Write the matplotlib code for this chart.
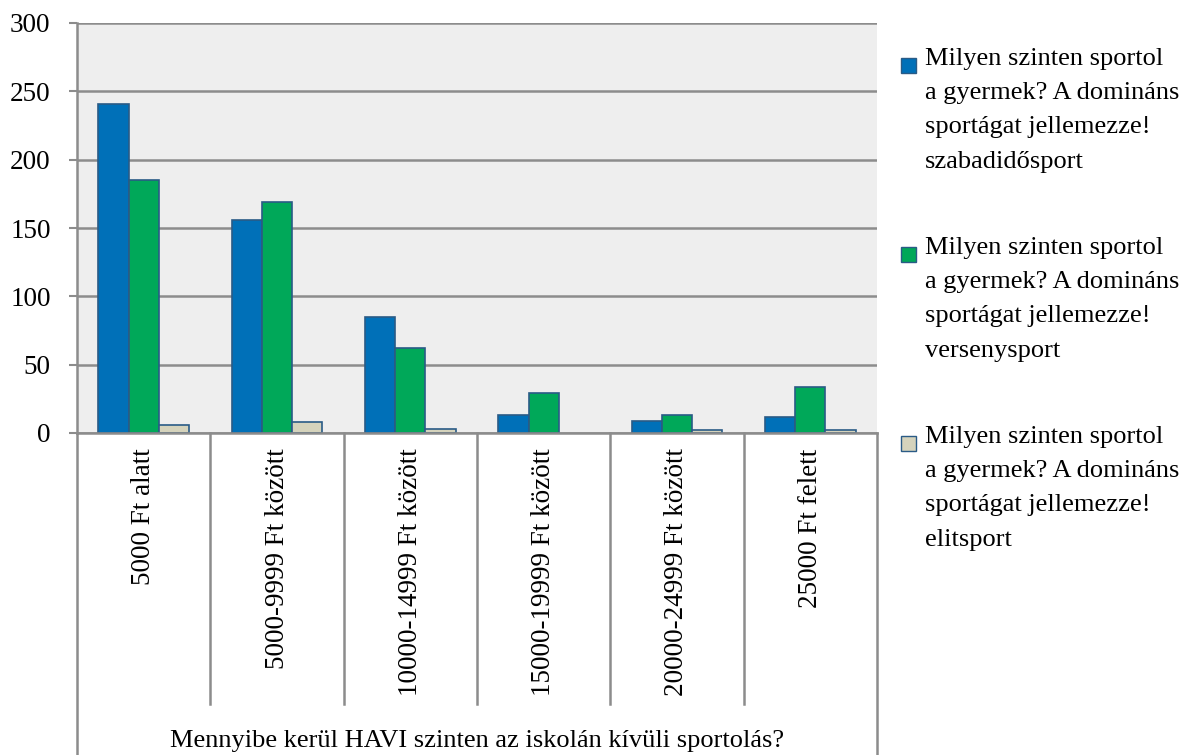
import numpy as np
import matplotlib

matplotlib.use("Agg")
import matplotlib.pyplot as plt  # noqa: E402
from matplotlib.patches import Rectangle  # noqa: E402

categories = [
    "5000 Ft alatt",
    "5000-9999 Ft között",
    "10000-14999 Ft között",
    "15000-19999 Ft között",
    "20000-24999 Ft között",
    "25000 Ft felett",
]
szabadido = [241, 156, 85, 13, 9, 12]
verseny = [185, 169, 62, 29, 13, 34]
elit = [6, 8, 3, 0, 2, 2]

series_labels = [
    "Milyen szinten sportol\na gyermek? A domináns\nsportágat jellemezze!\nszabadidősport",
    "Milyen szinten sportol\na gyermek? A domináns\nsportágat jellemezze!\nversenysport",
    "Milyen szinten sportol\na gyermek? A domináns\nsportágat jellemezze!\nelitsport",
]
colors = ["#0070B8", "#00A859", "#D5D3BC"]
edge = "#2A5B86"
grid_c = "#8C8C8C"
x_title = "Mennyibe kerül HAVI szinten az iskolán kívüli sportolás?"

plt.rcParams["font.family"] = ["Liberation Serif", "DejaVu Serif"]
FS = 19.5
FS_LEG = 19

W, H = 1186, 755
fig = plt.figure(figsize=(W / 100, H / 100), dpi=100)
left, right, top, bottom = 77, 877, 23, 433
ax = fig.add_axes([left / W, 1 - bottom / H, (right - left) / W, (bottom - top) / H])
ax.set_facecolor("#EEEEEE")

n = len(categories)
x = np.arange(n)
bw = 0.227
for i, (vals, col) in enumerate(zip([szabadido, verseny, elit], colors)):
    lws = [1.2 if v > 0 else 0 for v in vals]
    ax.bar(x + (i - 1) * bw, vals, bw, color=col, edgecolor=edge, linewidth=lws, zorder=3)

ax.set_xlim(-0.5, n - 0.5)
ax.set_ylim(0, 300)
ax.set_yticks(np.arange(0, 301, 50))
ax.yaxis.grid(True, color=grid_c, linewidth=1.8, zorder=1)
ax.set_axisbelow(True)
ax.tick_params(axis="y", length=6, width=1.5, color=grid_c, pad=13, labelsize=FS)
for s in ["top", "right"]:
    ax.spines[s].set_visible(False)
ax.spines["left"].set_color(grid_c)
ax.spines["left"].set_linewidth(1.8)
ax.spines["bottom"].set_color(grid_c)
ax.spines["bottom"].set_linewidth(1.8)
ax.spines["bottom"].set_zorder(4)

ax.set_xticks(x)
ax.set_xticklabels(categories, rotation=90, fontsize=FS, va="top")
ax.tick_params(axis="x", length=0, pad=11)

# category separators below the axis
plot_h = bottom - top
sep_bot = -(704 - bottom) / plot_h
full_bot = -(H - bottom) / plot_h
trans = ax.get_xaxis_transform()
for b in np.arange(0.5, n - 1, 1.0):
    ax.plot([b, b], [0, sep_bot], transform=trans, color=grid_c, lw=1.8, clip_on=False)
for b in [-0.5, n - 0.5]:
    ax.plot([b, b], [0, full_bot], transform=trans, color=grid_c, lw=1.8, clip_on=False)

fig.text((left + right) / 2 / W, 1 - 747 / H, x_title, ha="center", va="baseline",
         fontsize=FS_LEG)

# legend drawn by hand
base0 = 72
for i, (lab, col) in enumerate(zip(series_labels, colors)):
    yb = base0 + i * 189
    fig.patches.append(Rectangle((901 / W, 1 - (yb + 1) / H), 15 / W, 15 / H,
                                 transform=fig.transFigure, facecolor=col,
                                 edgecolor=edge, linewidth=1))
    fig.text(925 / W, 1 - (yb - 24) / H, lab, ha="left", va="top", fontsize=FS_LEG,
             linespacing=1.72)

fig.savefig("out.png", dpi=100)
